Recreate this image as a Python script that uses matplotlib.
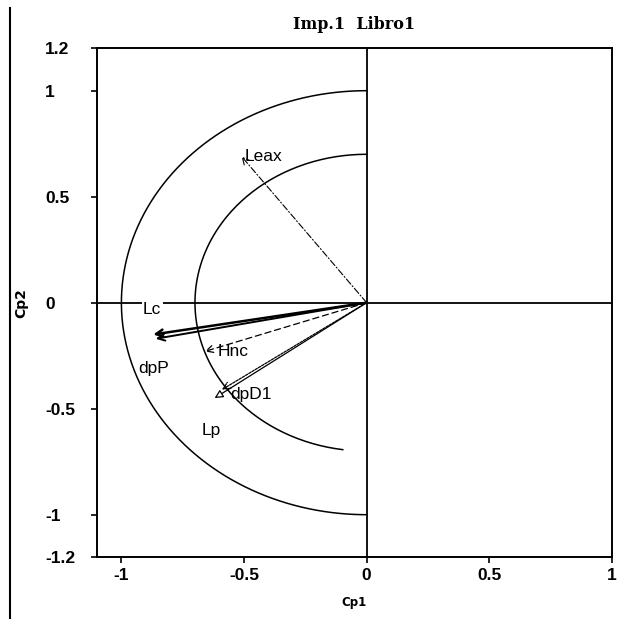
import numpy as np
import matplotlib.pyplot as plt
from matplotlib.lines import Line2D

# variable loadings on first two components
var_names = ['Leax', 'Lc', 'dpP', 'Hnc', 'dpD1', 'Lp']
cp1 = [-0.51, -0.87, -0.86, -0.66, -0.59, -0.62]
cp2 = [0.69, -0.15, -0.17, -0.23, -0.41, -0.45]

# reference circles: radius and end angle (degrees)
circle_r = [1.0, 0.7]
circle_end = [270, 262]

xticks = [-1, -0.5, 0, 0.5, 1]
yticks = [-1.2, -1, -0.5, 0, 0.5, 1, 1.2]

fig = plt.figure(figsize=(6.25, 6.19), dpi=100)
ax = fig.add_axes([0.155, 0.100, 0.824, 0.822])

# circles (left half only)
for r, end in zip(circle_r, circle_end):
    t = np.radians(np.linspace(90, end, 200))
    ax.plot(r * np.cos(t), r * np.sin(t), color='black', lw=1.1)

ax.axhline(0, color='black', lw=1.3)
ax.axvline(0, color='black', lw=1.3)

# arrow styles per variable
styles = {
    'Leax': dict(ls=(0, (6, 2, 1, 2)), lw=0.8, head='->'),
    'Lc': dict(ls='-', lw=1.8, head='->'),
    'dpP': dict(ls='-', lw=1.4, head='->'),
    'Hnc': dict(ls=(0, (5, 3)), lw=0.9, head='->'),
    'dpD1': dict(ls=(0, (2, 1)), lw=0.9, head='->'),
    'Lp': dict(ls='-', lw=0.9, head='-|>'),
}
# label offsets in pixels from arrow tip
offsets = {
    'Leax': (3, 0, 'left'),
    'Lc': (-1, 25, 'center'),
    'dpP': (-2, -30, 'center'),
    'Hnc': (13, 0, 'left'),
    'dpD1': (8, -5, 'left'),
    'Lp': (-3, -32, 'center'),
}

for name, x, y in zip(var_names, cp1, cp2):
    st = styles[name]
    ax.annotate('', xy=(x, y), xytext=(0, 0),
                arrowprops=dict(arrowstyle=st['head'] + ',head_length=0.5,head_width=0.25',
                                ec='black', fc='white' if name == 'Lp' else 'black',
                                lw=st['lw'], ls=st['ls'],
                                shrinkA=0, shrinkB=0))
    dx, dy, ha = offsets[name]
    bbox = dict(fc='white', ec='none', pad=1) if name == 'Lc' else None
    ax.annotate(name, xy=(x, y), xytext=(dx * 0.72, dy * 0.72),
                textcoords='offset points', ha=ha, va='center',
                fontsize=12.5, family='Liberation Sans', bbox=bbox)

ax.set_xlim(-1.1, 1.0)
ax.set_ylim(-1.2, 1.2)
ax.set_xticks(xticks)
ax.set_xticklabels(['-1', '-0.5', '0', '0.5', '1'])
ax.set_yticks(yticks)
ax.set_yticklabels(['-1.2', '-1', '-0.5', '0', '0.5', '1', '1.2'])
ax.tick_params(direction='out', length=4, width=1.2, labelsize=12.5)
ax.tick_params(axis='y', pad=33.4)
for lab in ax.get_xticklabels() + ax.get_yticklabels():
    lab.set_fontweight('bold')
    lab.set_family('Liberation Sans')
for lab in ax.get_yticklabels():
    lab.set_horizontalalignment('left')
for sp in ax.spines.values():
    sp.set_linewidth(1.4)

ax.set_xlabel('Cp1', fontsize=8.5, fontweight='bold', labelpad=10)
ax.set_ylabel('Cp2', fontsize=10, fontweight='bold')
ax.yaxis.set_label_coords(-0.134, 0.5)
ax.set_title('Imp.1  Libro1', fontsize=11.5, fontweight='bold',
             family='DejaVu Serif', pad=14)

# stray border line at the far left
fig.add_artist(Line2D([0.016, 0.016], [0.0, 0.987], color='black', lw=1.5,
                      transform=fig.transFigure))

fig.savefig('out.png', dpi=100)
